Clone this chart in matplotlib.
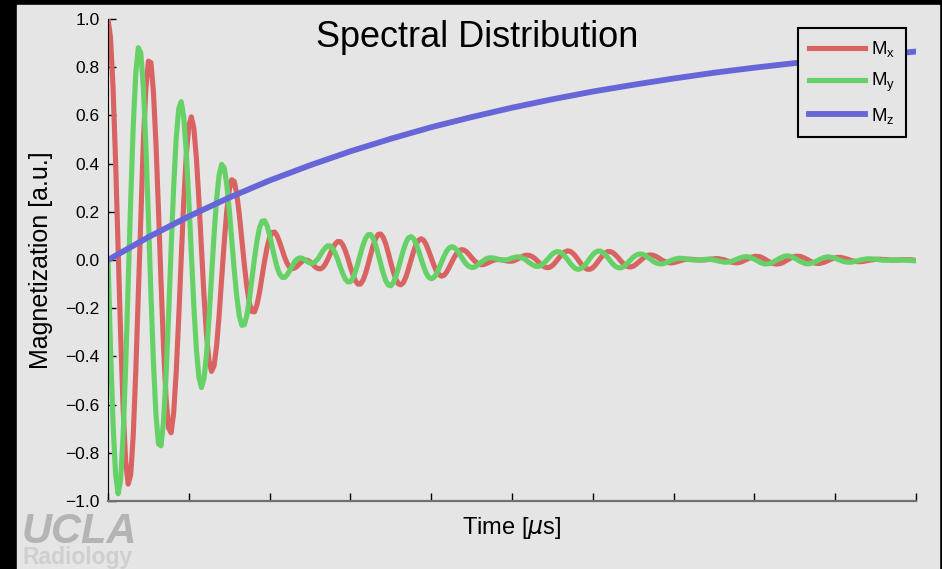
import numpy as np
import matplotlib
matplotlib.use("Agg")
from matplotlib import pyplot as plt
from matplotlib.patches import Rectangle

# time axis (tick units, no labels shown), 32 samples per tick
t = np.linspace(0, 10, 321)
# transverse components, in thousandths
mx_milli = [
    1000, 923, 716, 410, 51, -309, -619, -836, -930, -890, -726, -462, -140, 194, 491, 711, 825, 819, 697, 482,
    205, -90, -363, -574, -697, -717, -635, -468, -242, 7, 244, 436, 557, 594, 546, 424, 249, 50, -145, -308,
    -418, -462, -439, -357, -230, -80, 70, 198, 289, 333, 326, 274, 189, 85, -20, -112, -179, -214, -215, -186,
    -134, -70, -5, 52, 93, 114, 116, 100, 73, 41, 10, -15, -31, -36, -33, -25, -14, -5, 0, -1,
    -7, -17, -28, -35, -37, -32, -18, 2, 26, 49, 67, 77, 76, 63, 38, 7, -29, -61, -87, -100,
    -100, -84, -56, -19, 22, 60, 89, 106, 108, 94, 67, 30, -11, -49, -80, -99, -103, -93, -70, -37,
    -1, 35, 64, 82, 88, 82, 64, 38, 9, -20, -44, -60, -67, -64, -52, -33, -12, 9, 26, 38,
    43, 41, 34, 23, 10, -2, -11, -17, -20, -18, -14, -9, -4, 0, 2, 2, 0, -2, -4, -5,
    -5, -2, 3, 9, 14, 19, 20, 19, 14, 7, -3, -14, -23, -29, -32, -30, -23, -12, 1, 14,
    26, 34, 38, 36, 29, 18, 4, -11, -24, -34, -39, -38, -32, -21, -7, 7, 20, 30, 35, 35,
    30, 21, 10, -3, -14, -23, -28, -29, -26, -19, -10, -1, 8, 15, 20, 21, 19, 15, 9, 2,
    -4, -8, -11, -12, -11, -8, -5, -2, 1, 3, 3, 3, 2, 1, 0, 0, 0, 1, 3, 4,
    5, 6, 5, 3, 1, -3, -6, -9, -11, -12, -10, -7, -2, 3, 8, 12, 15, 15, 14, 10,
    4, -2, -8, -13, -16, -17, -15, -12, -6, 0, 6, 12, 15, 16, 15, 12, 7, 2, -4, -9,
    -13, -14, -14, -11, -8, -3, 2, 6, 9, 11, 11, 9, 6, 3, -1, -4, -6, -7, -7, -6,
    -4, -2, 0, 1, 3, 3, 3, 2, 2, 1, 0, 0, 0, 0, 1, 1, 1, 1, 1, 0, -2,
]
my_milli = [
    0, -368, -679, -889, -970, -912, -726, -440, -98, 251, 556, 776, 881, 859, 716, 476, 176, -140, -426, -644,
    -763, -771, -670, -479, -228, 46, 302, 504, 627, 657, 593, 449, 249, 25, -192, -370, -487, -529, -494, -393,
    -243, -68, 104, 251, 352, 397, 383, 317, 212, 86, -42, -152, -232, -271, -269, -230, -163, -80, 5, 79,
    133, 161, 163, 142, 104, 57, 10, -31, -59, -72, -72, -61, -43, -23, -6, 5, 9, 7, 0, -7,
    -13, -14, -8, 3, 19, 36, 50, 59, 58, 48, 28, 1, -29, -57, -79, -91, -90, -75, -48, -12,
    26, 62, 90, 105, 106, 91, 62, 25, -16, -55, -86, -104, -107, -95, -69, -34, 5, 42, 72, 92,
    97, 89, 68, 39, 5, -27, -54, -72, -78, -73, -59, -37, -11, 14, 35, 49, 55, 53, 43, 29,
    12, -5, -18, -27, -31, -30, -24, -16, -8, 0, 6, 9, 9, 8, 5, 2, 0, 0, 1, 4,
    8, 11, 13, 13, 9, 4, -4, -12, -19, -25, -27, -25, -19, -9, 2, 14, 25, 32, 35, 33,
    26, 15, 1, -13, -25, -35, -39, -37, -31, -20, -6, 9, 22, 32, 37, 37, 31, 22, 9, -5,
    -17, -27, -32, -33, -29, -21, -10, 1, 11, 19, 24, 25, 23, 17, 10, 2, -6, -12, -15, -16,
    -15, -11, -7, -2, 2, 5, 7, 7, 6, 5, 3, 1, 0, 0, 0, 1, 2, 3, 3, 2,
    0, -2, -5, -7, -9, -9, -8, -5, -1, 3, 7, 11, 13, 14, 12, 8, 3, -2, -8, -13,
    -16, -16, -15, -11, -5, 1, 7, 12, 16, 17, 16, 12, 7, 1, -5, -10, -14, -16, -15, -12,
    -8, -2, 3, 8, 11, 13, 12, 10, 7, 3, -1, -5, -8, -9, -9, -8, -5, -3, 0, 2,
    4, 5, 5, 4, 3, 2, 0, -1, -1, -1, -1, 0, 0, 0, 0, 0, -1, -2, -2, -3, -3,
]
# longitudinal recovery, every half tick
tz = np.linspace(0, 10, 21)
mz_milli = [0, 95, 181, 259, 330, 393, 451, 503, 551, 593, 632, 667, 699, 727, 753, 777, 798, 817, 835, 850, 865]

mx = np.array(mx_milli) / 1000
my = np.array(my_milli) / 1000
mz = np.array(mz_milli) / 1000
yticks = [-1.0, -0.8, -0.6, -0.4, -0.2, 0.0, 0.2, 0.4, 0.6, 0.8, 1.0]

plt.rcParams['font.family'] = ['Liberation Sans', 'DejaVu Sans']
fig = plt.figure(figsize=(9.42, 5.69), dpi=100, facecolor='black')
# grey slide panel inside the black frame
fig.patches.append(Rectangle((17 / 942, 0), (939 - 17) / 942, 1 - 5 / 569,
                             transform=fig.transFigure, color='#e5e5e5', zorder=-1))
ax = fig.add_axes([108 / 942, 1 - 501 / 569, 808 / 942, 482 / 569])
ax.set_facecolor('#e5e5e5')
ax.plot(t, mx, color='#d96363', lw=3.7, label=r'$\mathregular{M_x}$')
ax.plot(t, my, color='#66d166', lw=3.7, label=r'$\mathregular{M_y}$')
ax.plot(tz, mz, color='#6666d9', lw=4.2, label=r'$\mathregular{M_z}$')

ax.set_xlim(0, 10)
ax.set_ylim(-1, 1)
ax.set_xticks(np.arange(0, 11))
ax.set_xticklabels([])
ax.set_yticks(yticks)
ax.set_yticklabels([f"{v:.1f}".replace('-', '\u2212') for v in yticks])
ax.tick_params(direction='in', length=6, width=1, labelsize=12.5, pad=6)
for s in ['top', 'right']:
    ax.spines[s].set_visible(False)
ax.spines['bottom'].set_color('#707070')
ax.spines['bottom'].set_linewidth(1.6)

ax.set_ylabel('Magnetization [a.u.]', fontsize=18)
ax.yaxis.set_label_coords(-0.068, 0.5)
ax.set_xlabel(r'Time [$\mu$s]', fontsize=17)
ax.xaxis.set_label_coords(0.5, -0.029)
ax.text(0.457, 0.942, 'Spectral Distribution', transform=ax.transAxes,
        fontsize=26, ha='center', va='baseline')

leg = ax.legend(loc='upper right', bbox_to_anchor=(906 / 942, 1 - 28 / 569),
                bbox_transform=fig.transFigure, borderaxespad=0, fontsize=13.4,
                handlelength=3.0, handletextpad=0.32, borderpad=0.6,
                labelspacing=0.63, fancybox=False, framealpha=1)
leg.get_frame().set_edgecolor('black')
leg.get_frame().set_linewidth(1.5)
leg.get_frame().set_facecolor('#e5e5e5')

# logo in the lower left corner
fig.text(22 / 942, 1 - 543 / 569, 'UCLA', fontsize=30, fontweight='bold',
         fontstyle='italic', color='#b4b4b4', va='baseline')
fig.text(23 / 942, 1 - 564 / 569, 'Radiology', fontsize=16.5, fontweight='bold',
         color='#cfcfcf', va='baseline')

fig.savefig('out.png', facecolor=fig.get_facecolor())
